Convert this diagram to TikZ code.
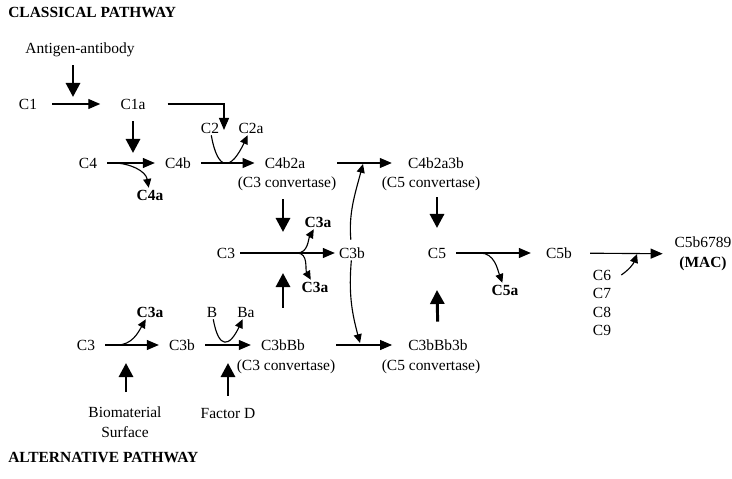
\documentclass[tikz,border=0pt]{standalone}
\usepackage{fontspec}
\setmainfont{Liberation Serif}
\usetikzlibrary{arrows.meta,calc}

\begin{document}
\begin{tikzpicture}[x=0.025cm,y=-0.025cm,
  font=\fontsize{11}{14}\selectfont,
  spec/.style={inner xsep=0.25cm,inner ysep=0.05cm,text height=0.25cm,text depth=0cm},
  prod/.style={spec,font=\fontsize{11}{14}\selectfont\bfseries},
  note/.style={spec,inner xsep=0.025cm},
  flow/.style={line width=0.8pt,-{Triangle[length=0.3cm,width=0.25cm]}},
  push/.style={line width=2.1pt,shorten <=0.25cm,-{Triangle[length=0.35cm,width=0.35cm]}},
  split/.style={line width=0.8pt,-{Triangle[length=0.22cm,width=0.2cm]}}]
\useasboundingbox (0,0) rectangle (732,479);

% headings
\node[anchor=west,inner sep=0,font=\fontsize{11}{14}\selectfont\bfseries] (classical) at (8,12) {CLASSICAL PATHWAY};
\node[anchor=west,inner sep=0,font=\fontsize{11}{14}\selectfont\bfseries] (alternative) at (8,458) {ALTERNATIVE PATHWAY};

% classical pathway
\node[spec] (ag) at (80,48) {Antigen-antibody};
\node[spec] (c1) at (28,104) {C1};
\node[spec] (c1a) at (133,104) {C1a};
\node[spec] (c2) at (210,128) {C2};
\node[spec] (c2a) at (251,128) {C2a};
\node[spec] (c4) at (88,163) {C4};
\node[spec] (c4b) at (178,163) {C4b};
\node[prod] (c4a) at (150,195) {C4a};
\node[spec] (c4b2a) at (285,163) {C4b2a};
\node[note] (conv1) at (287,182) {(C3 convertase)};
\node[spec] (c4b2a3b) at (436,163) {C4b2a3b};
\node[note] (conv3) at (431,182) {(C5 convertase)};

% C3 cleavage
\node[spec] (c3) at (226,253) {C3};
\node[spec] (c3b) at (352,253) {C3b};
\node[prod] (c3a1) at (318,222) {C3a};
\node[prod] (c3a2) at (315,287) {C3a};

% terminal pathway
\node[spec] (c5) at (437,253) {C5};
\node[spec] (c5b) at (559,253) {C5b};
\node[prod] (c5a) at (505,290) {C5a};
\node[align=center] (mac) at (703,254) {C5b6789\\\textbf{(MAC)}};
\node[spec] (c6) at (602,275) {C6};
\node[spec] (c7) at (602,293) {C7};
\node[spec] (c8) at (602,312) {C8};
\node[spec] (c9) at (602,330) {C9};

% alternative pathway
\node[spec] (c3alt) at (86,345) {C3};
\node[spec] (c3balt) at (182,345) {C3b};
\node[prod] (c3a3) at (150,312) {C3a};
\node[spec] (b) at (212,312) {B};
\node[spec] (ba) at (246,312) {Ba};
\node[spec] (c3bbb) at (283,345) {C3bBb};
\node[note] (conv2) at (286,365) {(C3 convertase)};
\node[spec] (c3bbb3b) at (438,345) {C3bBb3b};
\node[note] (conv4) at (431,365) {(C5 convertase)};
\node[align=center] (bio) at (125,422.5) {Biomaterial\\Surface};
\node[spec] (factd) at (228,413) {Factor D};

% points on the reaction lines
\coordinate (c2in) at (224,130);
\coordinate (s1) at (113,163);
\coordinate (fork) at (297,253);
\coordinate (s5) at (480,253);
\coordinate (s6) at (117,345);
\coordinate (join) at (637,254);
\coordinate (j1) at (363,164);
\coordinate (j2) at (360,343);

% reactions
\draw[flow,shorten <=0.125cm,shorten >=0.25cm] (c1) -- (c1a);
\draw[flow,shorten <=0.3cm] (c1a.east) -| (c2in);
\draw[flow] (c4) -- (c4b);
\draw[flow] (c4b) -- (c4b2a);
\draw[flow,shorten >=0.15cm] (conv1.east |- c4b2a) -- (c4b2a3b);
\draw[flow,shorten <=-0.125cm,shorten >=-0.15cm] (c3) -- (c3b);
\draw[flow,shorten >=0.125cm] (c5) -- (c5b);
\draw[flow,shorten <=0.2cm,shorten >=0.175cm] (c5b) -- (mac);
\draw[flow] (c3alt) -- (c3balt);
\draw[flow] (c3balt) -- (c3bbb);
\draw[flow,shorten >=0.15cm] (conv2.east |- c3bbb) -- (c3bbb3b);

% released fragments
\draw[split] (s1) to[out=0,in=100,shorten >=0.2cm] (c4a);
\draw[split] (c2) to[out=-80,in=-115,looseness=2.7] (c2a);
\draw[split] (b) to[out=-80,in=-115,looseness=2.7] (ba);
\draw[split] (fork) to[out=0,in=-120,shorten >=0.1cm] (c3a1);
\draw[split] (fork) to[out=0,in=120,shorten >=0.25cm] (c3a2);
\draw[split] (s5) to[out=0,in=110,shorten >=0.33cm] (c5a);
\draw[split] (s6) to[out=0,in=-120,shorten >=0.15cm] (c3a3);
\draw[split] (c6.east) to[out=35,in=-110] (join);
\draw[split,shorten <=0.15cm] (c3b) to[out=95,in=-105] (j1);
\draw[split] (c3b) to[out=-95,in=105] (j2);

% activators
\coordinate (t1) at (73,97);
\coordinate (t2) at (133,153);
\coordinate (t3) at (283,232);
\coordinate (t4) at (283,273);
\coordinate (t5) at (437,228);
\coordinate (t6) at (437,290);
\coordinate (t7) at (126,363);
\coordinate (t8) at (228,363);
\draw[push] (t1 |- ag.south) -- (t1);
\draw[push] (c1a.south) -- (t2);
\draw[push] (t3 |- conv1.south) -- (t3);
\draw[push,shorten <=0.75cm] (c3bbb.north) -- (t4);
\draw[push,shorten <=0.2cm] (t5 |- conv3.south) -- (t5);
\draw[push,shorten <=0.4cm] (c3bbb3b.north) -- (t6);
\draw[push] (t7 |- bio.north) -- (t7);
\draw[push] (factd.north) -- (t8);
\end{tikzpicture}
\end{document}
